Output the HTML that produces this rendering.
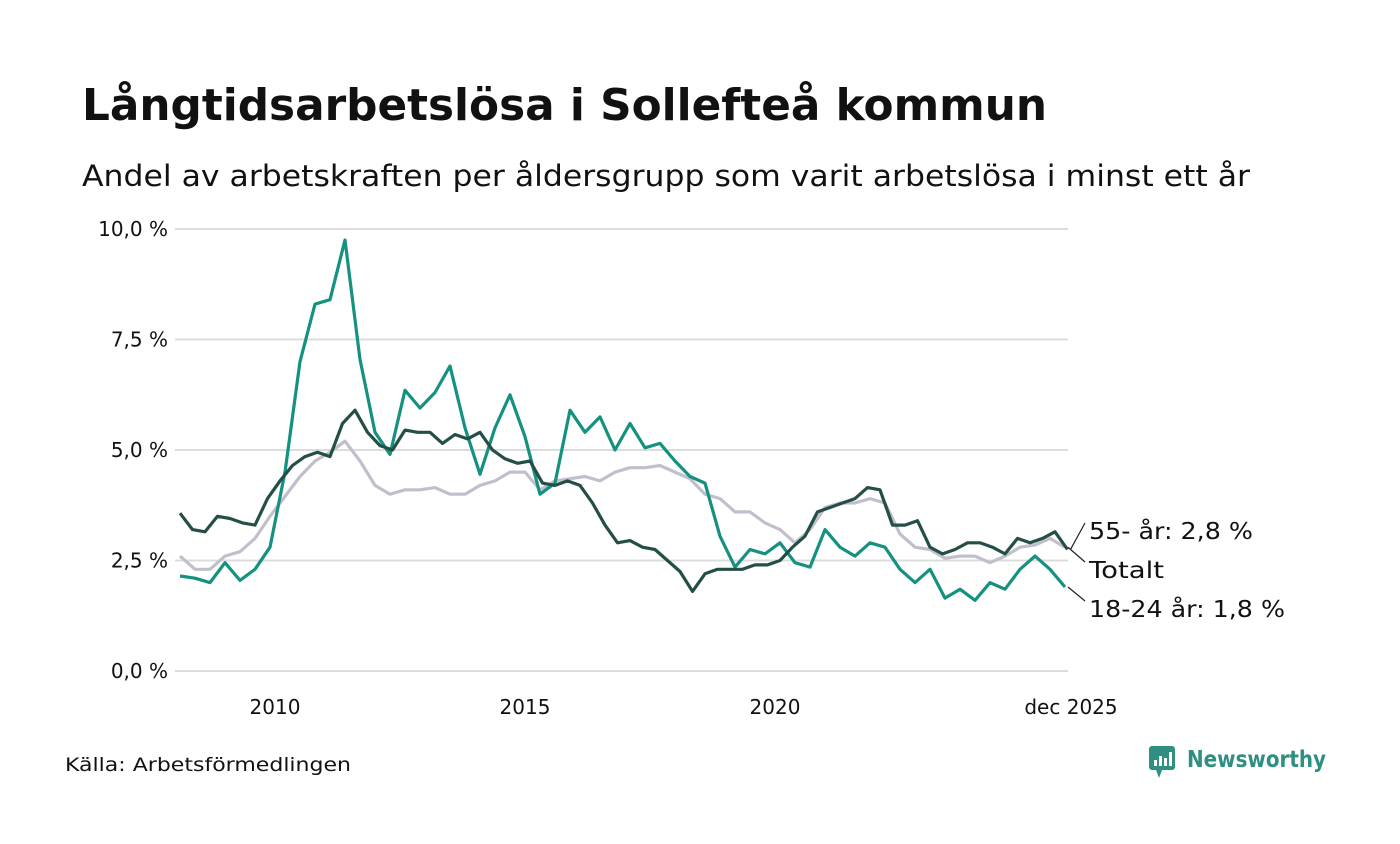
<!DOCTYPE html>
<html><head><meta charset="utf-8">
<style>
body{margin:0;background:#fff;width:1400px;height:840px;overflow:hidden;font-family:"DejaVu Sans","Liberation Sans",sans-serif;color:#111;}
</style></head>
<body>
<svg id="chart" width="1400" height="840" xmlns="http://www.w3.org/2000/svg" font-family="DejaVu Sans, Liberation Sans, sans-serif">
<text x="82" y="120" font-size="44" font-weight="bold" fill="#111" textLength="965" lengthAdjust="spacingAndGlyphs">Långtidsarbetslösa i Sollefteå kommun</text>
<text x="82" y="186" font-size="29" fill="#111" textLength="1168" lengthAdjust="spacingAndGlyphs">Andel av arbetskraften per åldersgrupp som varit arbetslösa i minst ett år</text>
<g id="grid"></g>
<g id="series"></g>
<g id="labels"></g>
<text x="65" y="771" font-size="19" fill="#111" textLength="286" lengthAdjust="spacingAndGlyphs">Källa: Arbetsförmedlingen</text>
<g>
<rect x="1149" y="746" width="26" height="24" rx="3" fill="#2f8f80"/>
<polygon points="1156,770 1162,770 1159,778" fill="#2f8f80"/>
<rect x="1154" y="760" width="3" height="6" fill="#fff"/><rect x="1159" y="756" width="3" height="10" fill="#fff"/><rect x="1164" y="758" width="3" height="8" fill="#fff"/><rect x="1169" y="752" width="3" height="14" fill="#fff"/>
<text x="1187" y="767" font-size="23" font-weight="bold" fill="#2f8f80" textLength="139" lengthAdjust="spacingAndGlyphs">Newsworthy</text>
</g>
</svg>
<script>
const yTicks=[0,2.5,5,7.5,10];
const yTickLabels=["0,0 %","2,5 %","5,0 %","7,5 %","10,0 %"];
const xTicks=[2010,2015,2020,2025.92];
const xTickLabels=["2010","2015","2020","dec 2025"];
const darkStart=2008.1, darkStep=0.25;
const dark55=[3.57,3.2,3.15,3.5,3.45,3.35,3.3,3.9,4.3,4.65,4.85,4.95,4.85,5.6,5.9,5.4,5.1,5.0,5.45,5.4,5.4,5.15,5.35,5.25,5.4,5.0,4.8,4.7,4.75,4.25,4.2,4.3,4.2,3.8,3.3,2.9,2.95,2.8,2.75,2.5,2.25,1.8,2.2,2.3,2.3,2.3,2.4,2.4,2.5,2.8,3.05,3.6,3.7,3.8,3.9,4.15,4.1,3.3,3.3,3.4,2.8,2.65,2.75,2.9,2.9,2.8,2.65,3.0,2.9,3.0,3.15,2.75];
const otherStart=2008.1, otherStep=0.3;
const totalVals=[2.6,2.3,2.3,2.6,2.7,3.0,3.5,3.95,4.4,4.75,4.95,5.2,4.75,4.2,4.0,4.1,4.1,4.15,4.0,4.0,4.2,4.3,4.5,4.5,4.1,4.3,4.35,4.4,4.3,4.5,4.6,4.6,4.65,4.5,4.35,4.0,3.9,3.6,3.6,3.35,3.2,2.9,3.2,3.7,3.8,3.8,3.9,3.8,3.1,2.8,2.75,2.55,2.6,2.6,2.45,2.6,2.8,2.85,3.0,2.8];
const youthVals=[2.15,2.1,2.0,2.45,2.05,2.3,2.8,4.5,7.0,8.3,8.4,9.75,7.05,5.4,4.9,6.35,5.95,6.3,6.9,5.5,4.45,5.5,6.25,5.3,4.0,4.25,5.9,5.4,5.75,5.0,5.6,5.05,5.15,4.75,4.4,4.25,3.05,2.35,2.75,2.65,2.9,2.45,2.35,3.2,2.8,2.6,2.9,2.8,2.3,2.0,2.3,1.65,1.85,1.6,2.0,1.85,2.3,2.6,2.3,1.9];
const endLabels=["55- år: 2,8 %","Totalt","18-24 år: 1,8 %"];
const endLabelWidths=[164,75,196];

const X=t=>275+(t-2010)*50;
const Y=v=>671-v*44.2;
const NS="http://www.w3.org/2000/svg";
function mk(tag,attrs,parent){const e=document.createElementNS(NS,tag);for(const k in attrs)e.setAttribute(k,attrs[k]);parent.appendChild(e);return e;}
const grid=document.getElementById('grid'),ser=document.getElementById('series'),lab=document.getElementById('labels');
yTicks.forEach((v,i)=>{
 const l=mk('line',{x1:175,x2:1068,y1:Y(v),y2:Y(v),stroke:'#dcdcdf','stroke-width':2},grid);
 
 
 const t=mk('text',{x:168,y:Y(v)+7,'font-size':20,'text-anchor':'end',fill:'#111'},grid);
 t.textContent=yTickLabels[i];
 
 
});
xTicks.forEach((v,i)=>{
 const t=mk('text',{x:X(v),y:714,'font-size':20,'text-anchor':'middle',fill:'#111'},grid);
 t.textContent=xTickLabels[i];
 
 
});
function draw(vals,start,step,color,name){
 const d=vals.map((v,i)=>(i?'L':'M')+X(start+i*step).toFixed(1)+','+Y(v).toFixed(1)).join(' ');
 const p=mk('path',{d:d,fill:'none',stroke:color,'stroke-width':3.2,'stroke-linejoin':'round'},ser);
 
 
 return [X(start+(vals.length-1)*step),Y(vals[vals.length-1])];
}
const eT=draw(totalVals,otherStart,otherStep,'#c2bfcc','line-totalt');
const eY=draw(youthVals,otherStart,otherStep,'#15917f','line-18-24');
const eD=draw(dark55,darkStart,darkStep,'#234f46','line-55-plus');
const labY=[530,569,608];
[eD,eT,eY].forEach((e,i)=>{
 const l=mk('line',{x1:e[0]+3,y1:e[1],x2:1085,y2:labY[i]-7,stroke:'#222','stroke-width':1.2},lab);
 
 
 const t=mk('text',{x:1089,y:labY[i]+9,'font-size':23,fill:'#111',textLength:endLabelWidths[i],lengthAdjust:'spacingAndGlyphs'},lab);
 t.textContent=endLabels[i];
 
 
});
</script>
</body></html>
